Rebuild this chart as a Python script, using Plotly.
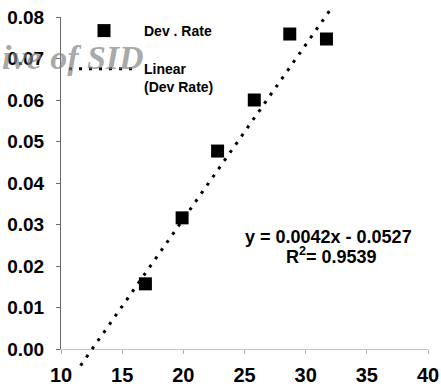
import plotly.graph_objects as go

# Data
temp = [16.9, 19.9, 22.8, 25.8, 28.7, 31.7]
dev_rate = [0.0157, 0.0316, 0.0477, 0.0600, 0.0759, 0.0747]
slope = 0.0042
intercept = -0.0527
r2 = 0.9539
trend_x = [11.6, 32.1]
trend_y = [slope * x + intercept for x in trend_x]
x_ticks = [10, 15, 20, 25, 30, 35, 40]
y_ticks = [0.00, 0.01, 0.02, 0.03, 0.04, 0.05, 0.06, 0.07, 0.08]

W, H = 441, 390
m_l, m_r, m_t, m_b = 61, 13, 5, 20
plot_h = H - m_t - m_b
# main axis spans 0..0.08 between pixel rows 17 and 349
d0 = (H - m_b - 349) / plot_h
d1 = (H - m_b - 17) / plot_h
ppu = (349 - 17) / 0.08
y2_lo = -(H - m_b - 349) / ppu
y2_hi = 0.08 + (17 - m_t) / ppu

FONT = "Liberation Sans, Arial, sans-serif"

fig = go.Figure()
fig.add_trace(go.Scatter(
    x=trend_x, y=trend_y, mode="lines", name="Linear<br>(Dev Rate)",
    line=dict(color="black", width=3, dash="3px,7px"),
    xaxis="x2", yaxis="y2", legendgroup="b", legendrank=2,
))
fig.add_trace(go.Scatter(
    x=temp, y=dev_rate, mode="markers", name="Dev . Rate",
    marker=dict(symbol="square", size=13, color="black"),
    xaxis="x", yaxis="y", legendgroup="a", legendrank=1,
))

fig.add_annotation(
    text="ive of SID", xref="paper", yref="paper",
    x=(0 - m_l) / (W - m_l - m_r), y=(H - m_b - 58) / plot_h,
    xanchor="left", yanchor="middle", showarrow=False,
    font=dict(family="Liberation Serif, Times New Roman, serif", size=34,
              color="rgba(130,130,130,0.7)", style="italic", weight="bold"),
)
fig.add_annotation(
    text="y = 0.0042x - 0.0527", x=31.9, y=0.0270, xref="x", yref="y",
    showarrow=False, font=dict(family=FONT, size=18, color="black", weight="bold"),
)
fig.add_annotation(
    text=f"R<sup>2</sup>= {r2}", x=32.1, y=0.0226, xref="x", yref="y",
    showarrow=False, font=dict(family=FONT, size=18, color="black", weight="bold"),
)

fig.update_layout(
    width=W, height=H,
    margin=dict(l=m_l, r=m_r, t=m_t, b=m_b, autoexpand=False),
    paper_bgcolor="white", plot_bgcolor="rgba(0,0,0,0)",
    font=dict(family=FONT, color="black"),
    showlegend=True,
    legend=dict(
        xref="container", yref="container",
        x=64 / W, y=1 - 15 / H, xanchor="left", yanchor="top",
        itemwidth=70, valign="top", tracegroupgap=17,
        font=dict(family=FONT, size=14, color="black", weight="bold"),
        bgcolor="rgba(0,0,0,0)", borderwidth=0,
    ),
    xaxis=dict(
        range=[10, 40], tickvals=x_ticks, showgrid=False, zeroline=False,
        showline=True, linecolor="#c4c4c4", linewidth=1,
        ticks="outside", ticklen=4, tickcolor="#b0b0b0",
        tickfont=dict(family=FONT, size=20, color="black", weight="bold"),
        ticklabelstandoff=4, anchor="y", automargin=False,
    ),
    yaxis=dict(
        range=[0, 0.08], domain=[d0, d1], tickvals=y_ticks, tickformat=".2f",
        showgrid=False, zeroline=False, showline=True, linecolor="#6a6a6a",
        linewidth=1, ticks="outside", ticklen=4, tickcolor="#6a6a6a",
        tickfont=dict(family=FONT, size=19, color="black", weight="bold"),
        ticklabelstandoff=8, anchor="x", automargin=False,
    ),
    xaxis2=dict(matches="x", range=[10, 40], visible=False, anchor="y2"),
    yaxis2=dict(range=[y2_lo, y2_hi], domain=[0, 1], visible=False, anchor="x2"),
)

fig.write_html("out.html")
